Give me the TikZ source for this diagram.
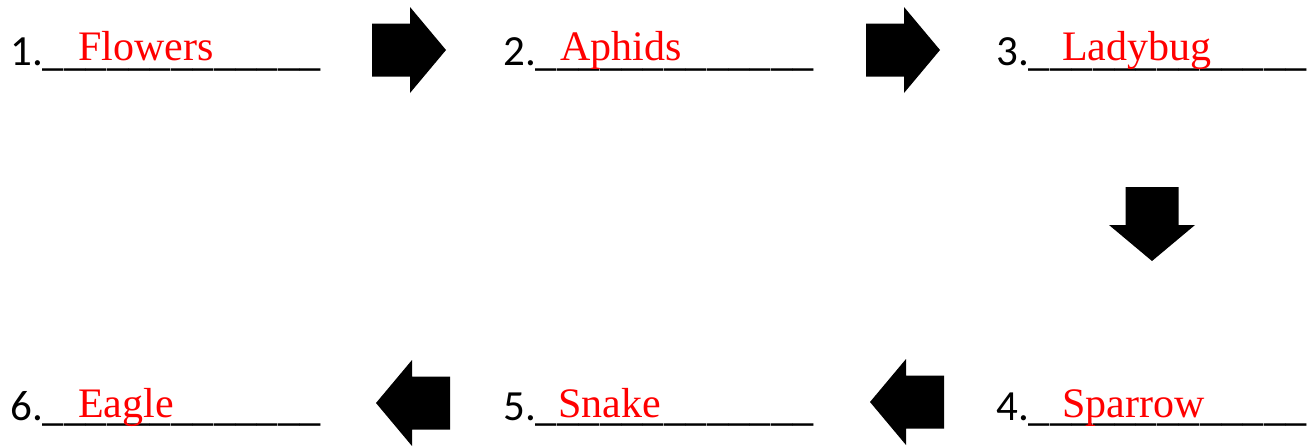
\documentclass[tikz,border=0pt]{standalone}
\usepackage{fontspec}
\newfontfamily\numfont{Carlito}
\newfontfamily\ansfont{Liberation Serif}
\tikzset{
  blank/.style={anchor=base west, inner sep=0pt, font=\numfont\fontsize{43}{50}\selectfont, text=black},
  answer/.style={anchor=base west, inner sep=0pt, font=\ansfont\fontsize{42}{48}\selectfont, text=red},
  pics/blockarrow/.style={code={
    \fill[black] (0,0) -- (-36,-43) -- (-36,-26.5) -- (-74,-26.5) -- (-74,26.5) -- (-36,26.5) -- (-36,43) -- cycle;
  }}
}
\newcommand{\blankline}{\_\_\_\_\_\_\_\_\_\_\_\_\_}
\begin{document}
\begin{tikzpicture}[x=1pt,y=-1pt]
\useasboundingbox (0,0) rectangle (1309,447);
% row 1
\node[blank] (b1) at (10,65) {1.\blankline};
\node[answer] (a1) at (78,60) {Flowers};
\node[blank] (b2) at (503,65) {2.\blankline};
\node[answer] (a2) at (560,60) {Aphids};
\node[blank] (b3) at (996,65) {3.\blankline};
\node[answer] (a3) at (1062,60) {Ladybug};
% row 3
\node[blank] (b6) at (10,420) {6.\blankline};
\node[answer] (a6) at (78,417) {Eagle};
\node[blank] (b5) at (503,420) {5.\blankline};
\node[answer] (a5) at (558,417) {Snake};
\node[blank] (b4) at (996,420) {4.\blankline};
\node[answer] (a4) at (1062,417) {Sparrow};
% arrows
\pic at (446,50) {blockarrow};
\pic at (940,50) {blockarrow};
\pic[rotate=-90] at (1152,261) {blockarrow};
\pic[rotate=180] at (870,402) {blockarrow};
\pic[rotate=180] at (376,403) {blockarrow};
\end{tikzpicture}
\end{document}
